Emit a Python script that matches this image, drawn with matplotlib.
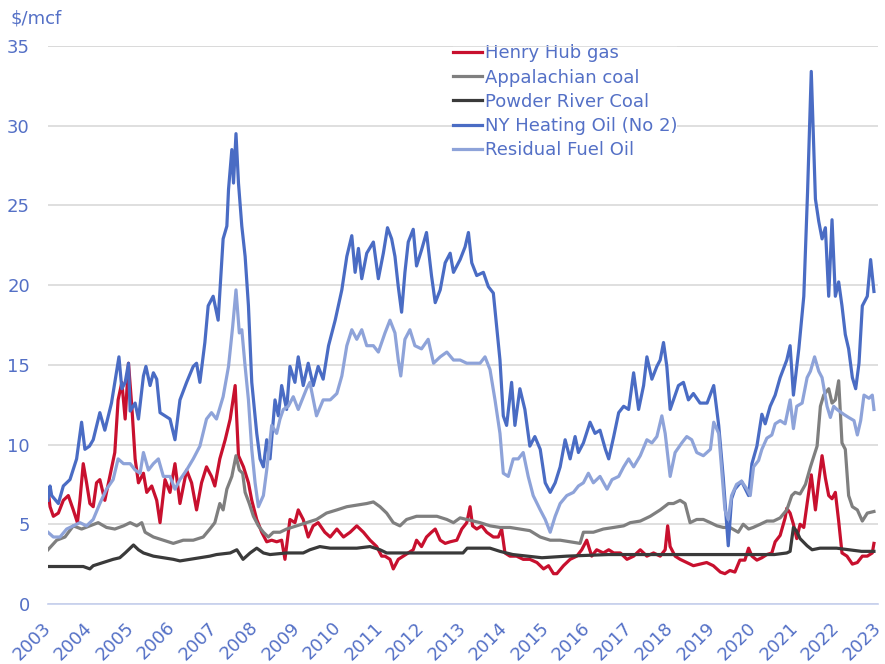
import matplotlib
matplotlib.use("Agg")
import matplotlib.pyplot as plt

# x positions are in the chart's own year units (as drawn on the category axis)
hh_x = [2003.00, 2003.05, 2003.13, 2003.25, 2003.37, 2003.49, 2003.61, 2003.71, 2003.77, 2003.85,
        2003.93, 2004.01, 2004.09, 2004.17, 2004.25, 2004.37, 2004.49, 2004.61, 2004.69, 2004.78,
        2004.86, 2004.94, 2005.02, 2005.10, 2005.18, 2005.30, 2005.38, 2005.50, 2005.62, 2005.70,
        2005.82, 2005.94, 2006.06, 2006.18, 2006.34, 2006.46, 2006.58, 2006.70, 2006.82, 2006.94,
        2007.02, 2007.14, 2007.27, 2007.39, 2007.51, 2007.59, 2007.71, 2007.83, 2007.91, 2008.03,
        2008.15, 2008.27, 2008.39, 2008.51, 2008.63, 2008.71, 2008.83, 2008.95, 2009.03, 2009.15,
        2009.27, 2009.39, 2009.51, 2009.67, 2009.80, 2009.96, 2010.12, 2010.28, 2010.44, 2010.60,
        2010.76, 2010.92, 2011.04, 2011.12, 2011.24, 2011.32, 2011.44, 2011.56, 2011.68, 2011.80,
        2011.88, 2012.00, 2012.12, 2012.24, 2012.33, 2012.45, 2012.57, 2012.69, 2012.85, 2012.97,
        2013.09, 2013.17, 2013.23, 2013.33, 2013.45, 2013.57, 2013.73, 2013.85, 2013.93, 2014.01,
        2014.13, 2014.29, 2014.45, 2014.61, 2014.78, 2014.94, 2015.06, 2015.18, 2015.26, 2015.42,
        2015.58, 2015.74, 2015.86, 2015.98, 2016.10, 2016.22, 2016.38, 2016.51, 2016.63, 2016.79,
        2016.95, 2017.11, 2017.27, 2017.43, 2017.59, 2017.75, 2017.87, 2017.93, 2017.99, 2018.11,
        2018.23, 2018.39, 2018.55, 2018.71, 2018.87, 2019.03, 2019.20, 2019.31, 2019.43, 2019.55,
        2019.67, 2019.79, 2019.88, 2019.96, 2020.08, 2020.20, 2020.32, 2020.44, 2020.52, 2020.64,
        2020.76, 2020.80, 2020.88, 2020.96, 2021.04, 2021.12, 2021.21, 2021.29, 2021.39, 2021.49,
        2021.57, 2021.65, 2021.73, 2021.81, 2021.89, 2021.97, 2022.05, 2022.13, 2022.25, 2022.38,
        2022.50, 2022.62, 2022.74, 2022.86, 2022.90]
hh_y = [7.2, 6.1, 5.5, 5.7, 6.5, 6.8, 5.9, 5.1, 6.5, 8.8,
        7.6, 6.3, 6.1, 7.6, 7.8, 6.5, 8.0, 9.5, 12.8, 13.9,
        11.6, 15.1, 12.4, 9.1, 7.6, 8.2, 7.0, 7.4, 6.5, 5.1,
        7.8, 7.0, 8.8, 6.3, 8.4, 7.6, 5.9, 7.6, 8.6, 8.0,
        7.4, 9.1, 10.3, 11.6, 13.7, 9.3, 8.6, 7.6, 6.5, 5.3,
        4.5, 3.9, 4.0, 3.9, 4.0, 2.8, 5.3, 5.1, 5.9, 5.3,
        4.2, 4.9, 5.1, 4.5, 4.2, 4.7, 4.2, 4.5, 4.9, 4.5,
        4.0, 3.6, 3.0, 3.0, 2.8, 2.2, 2.8, 3.0, 3.2, 3.4,
        4.0, 3.6, 4.2, 4.5, 4.7, 4.0, 3.8, 3.9, 4.0, 4.7,
        5.1, 6.1, 4.9, 4.7, 4.9, 4.5, 4.2, 4.2, 4.7, 3.2,
        3.0, 3.0, 2.8, 2.8, 2.6, 2.2, 2.4, 1.9, 1.9, 2.4,
        2.8, 3.0, 3.4, 4.0, 3.0, 3.4, 3.2, 3.4, 3.2, 3.2,
        2.8, 3.0, 3.4, 3.0, 3.2, 3.0, 3.4, 4.9, 3.6, 3.0,
        2.8, 2.6, 2.4, 2.5, 2.6, 2.4, 2.0, 1.9, 2.1, 2.0,
        2.75, 2.75, 3.5, 3.0, 2.75, 2.9, 3.1, 3.2, 3.9, 4.3,
        5.4, 6.0, 5.7, 5.0, 4.1, 5.0, 4.8, 6.3, 8.1, 5.9,
        7.7, 9.3, 7.9, 6.8, 6.6, 7.0, 5.2, 3.2, 3.0, 2.5,
        2.6, 3.0, 3.0, 3.2, 3.8]

app_x = [2003.00, 2003.21, 2003.41, 2003.61, 2003.81, 2004.01, 2004.21, 2004.41, 2004.61, 2004.82,
         2004.98, 2005.14, 2005.26, 2005.34, 2005.54, 2005.78, 2006.02, 2006.26, 2006.50, 2006.74,
         2006.90, 2007.02, 2007.14, 2007.22, 2007.31, 2007.43, 2007.53, 2007.61, 2007.69, 2007.75,
         2007.85, 2007.95, 2008.07, 2008.19, 2008.31, 2008.43, 2008.59, 2008.75, 2008.99, 2009.23,
         2009.47, 2009.71, 2009.96, 2010.20, 2010.44, 2010.68, 2010.84, 2011.00, 2011.16, 2011.32,
         2011.48, 2011.64, 2011.88, 2012.12, 2012.37, 2012.61, 2012.77, 2012.93, 2013.09, 2013.25,
         2013.41, 2013.65, 2013.89, 2014.13, 2014.37, 2014.61, 2014.86, 2015.10, 2015.34, 2015.58,
         2015.82, 2015.90, 2016.14, 2016.38, 2016.63, 2016.87, 2017.03, 2017.27, 2017.51, 2017.75,
         2017.95, 2018.07, 2018.23, 2018.35, 2018.47, 2018.63, 2018.79, 2018.96, 2019.12, 2019.27,
         2019.43, 2019.63, 2019.75, 2019.88, 2019.99, 2020.16, 2020.32, 2020.48, 2020.64, 2020.80,
         2020.92, 2021.00, 2021.12, 2021.25, 2021.37, 2021.53, 2021.61, 2021.69, 2021.81, 2021.89,
         2021.97, 2022.05, 2022.13, 2022.21, 2022.29, 2022.38, 2022.50, 2022.62, 2022.74, 2022.90]
app_y = [3.4, 4.0, 4.2, 4.9, 4.7, 4.9, 5.1, 4.8, 4.7, 4.9,
         5.1, 4.9, 5.1, 4.5, 4.2, 4.0, 3.8, 4.0, 4.0, 4.2,
         4.7, 5.1, 6.3, 5.9, 7.2, 8.0, 9.3, 8.4, 8.2, 7.0,
         6.3, 5.5, 4.9, 4.5, 4.2, 4.5, 4.5, 4.7, 4.9, 5.1,
         5.3, 5.7, 5.9, 6.1, 6.2, 6.3, 6.4, 6.1, 5.7, 5.1,
         4.9, 5.3, 5.5, 5.5, 5.5, 5.3, 5.1, 5.4, 5.3, 5.2,
         5.1, 4.9, 4.8, 4.8, 4.7, 4.6, 4.2, 4.0, 4.0, 3.9,
         3.8, 4.5, 4.5, 4.7, 4.8, 4.9, 5.1, 5.2, 5.5, 5.9,
         6.3, 6.3, 6.5, 6.3, 5.1, 5.3, 5.3, 5.1, 4.9, 4.8,
         4.8, 4.5, 5.0, 4.7, 4.8, 5.0, 5.2, 5.2, 5.4, 5.9,
         6.8, 7.0, 6.9, 7.5, 8.6, 9.9, 12.4, 13.1, 13.5, 12.6,
         12.8, 14.0, 10.1, 9.7, 6.8, 6.1, 5.9, 5.2, 5.7, 5.8]

prb_x = [2003.00, 2003.50, 2003.85, 2004.01, 2004.09, 2004.33, 2004.57, 2004.73, 2004.86, 2004.94,
         2005.06, 2005.18, 2005.30, 2005.54, 2005.78, 2006.02, 2006.18, 2006.42, 2006.66, 2006.90,
         2007.06, 2007.39, 2007.55, 2007.70, 2007.87, 2008.03, 2008.19, 2008.35, 2008.75, 2009.15,
         2009.31, 2009.55, 2009.80, 2010.44, 2010.76, 2011.00, 2011.16, 2012.00, 2013.00, 2013.10,
         2013.65, 2013.89, 2014.20, 2014.90, 2015.50, 2016.50, 2017.50, 2018.50, 2019.50, 2020.50,
         2020.80, 2020.88, 2020.96, 2021.03, 2021.12, 2021.29, 2021.41, 2021.60, 2022.00, 2022.30,
         2022.60, 2022.90]
prb_y = [2.35, 2.35, 2.35, 2.2, 2.4, 2.6, 2.8, 2.9, 3.2, 3.4,
         3.7, 3.4, 3.2, 3.0, 2.9, 2.8, 2.7, 2.8, 2.9, 3.0,
         3.1, 3.2, 3.4, 2.8, 3.2, 3.5, 3.2, 3.1, 3.2, 3.2,
         3.4, 3.6, 3.5, 3.5, 3.6, 3.4, 3.2, 3.2, 3.2, 3.5,
         3.5, 3.3, 3.1, 2.9, 3.0, 3.1, 3.1, 3.1, 3.1, 3.1,
         3.2, 3.3, 4.8, 4.6, 4.1, 3.65, 3.4, 3.5, 3.5, 3.4,
         3.3, 3.3]

ho_x = [2003.00, 2003.05, 2003.09, 2003.25, 2003.37, 2003.53, 2003.69, 2003.81, 2003.89, 2004.00,
        2004.09, 2004.25, 2004.37, 2004.53, 2004.71, 2004.78, 2004.86, 2004.94, 2004.98, 2005.10,
        2005.18, 2005.30, 2005.36, 2005.46, 2005.54, 2005.62, 2005.70, 2005.82, 2005.94, 2006.06,
        2006.18, 2006.34, 2006.50, 2006.58, 2006.66, 2006.78, 2006.86, 2006.98, 2007.10, 2007.22,
        2007.31, 2007.35, 2007.43, 2007.47, 2007.53, 2007.59, 2007.67, 2007.75, 2007.83, 2007.91,
        2008.03, 2008.11, 2008.19, 2008.27, 2008.35, 2008.47, 2008.55, 2008.63, 2008.75, 2008.83,
        2008.95, 2009.03, 2009.15, 2009.27, 2009.39, 2009.51, 2009.63, 2009.76, 2009.92, 2010.08,
        2010.20, 2010.32, 2010.40, 2010.48, 2010.56, 2010.68, 2010.84, 2010.96, 2011.08, 2011.18,
        2011.28, 2011.36, 2011.44, 2011.52, 2011.60, 2011.68, 2011.80, 2011.88, 2012.00, 2012.12,
        2012.24, 2012.33, 2012.45, 2012.57, 2012.69, 2012.77, 2012.93, 2013.05, 2013.13, 2013.21,
        2013.33, 2013.49, 2013.61, 2013.73, 2013.81, 2013.89, 2013.97, 2014.05, 2014.17, 2014.25,
        2014.37, 2014.49, 2014.61, 2014.73, 2014.86, 2014.98, 2015.10, 2015.22, 2015.34, 2015.46,
        2015.58, 2015.70, 2015.78, 2015.90, 2016.06, 2016.18, 2016.30, 2016.43, 2016.51, 2016.63,
        2016.75, 2016.87, 2016.99, 2017.11, 2017.23, 2017.35, 2017.43, 2017.55, 2017.67, 2017.75,
        2017.83, 2017.91, 2017.99, 2018.07, 2018.19, 2018.31, 2018.43, 2018.55, 2018.71, 2018.88,
        2019.04, 2019.16, 2019.27, 2019.39, 2019.47, 2019.55, 2019.71, 2019.88, 2019.96, 2020.08,
        2020.20, 2020.28, 2020.40, 2020.52, 2020.64, 2020.80, 2020.88, 2020.96, 2021.09, 2021.21,
        2021.30, 2021.39, 2021.49, 2021.57, 2021.65, 2021.73, 2021.81, 2021.89, 2021.97, 2022.05,
        2022.13, 2022.21, 2022.29, 2022.38, 2022.46, 2022.54, 2022.62, 2022.74, 2022.82, 2022.90]
ho_y = [6.5, 7.4, 6.8, 6.3, 7.4, 7.8, 9.1, 11.4, 9.7, 9.9,
        10.3, 12.0, 10.9, 12.6, 15.5, 13.5, 13.9, 15.1, 12.1, 12.6,
        11.6, 14.3, 14.9, 13.7, 14.5, 14.1, 12.0, 11.8, 11.6, 10.3,
        12.8, 13.9, 14.9, 15.1, 13.9, 16.4, 18.7, 19.3, 17.8, 22.9,
        23.7, 26.0, 28.5, 26.4, 29.5, 26.4, 23.7, 21.8, 18.7, 13.9,
        10.7, 9.1, 8.6, 10.3, 9.1, 12.8, 11.8, 13.7, 12.2, 14.9,
        13.9, 15.5, 13.7, 15.1, 13.7, 14.9, 14.1, 16.2, 17.8, 19.7,
        21.8, 23.1, 20.8, 22.3, 20.4, 22.0, 22.7, 20.4, 22.0, 23.6,
        22.9, 21.8, 19.9, 18.3, 20.8, 22.7, 23.5, 21.2, 22.2, 23.3,
        20.6, 18.9, 19.7, 21.4, 22.0, 20.8, 21.6, 22.4, 23.3, 21.4,
        20.6, 20.8, 19.9, 19.5, 17.4, 15.3, 11.8, 11.2, 13.9, 11.2,
        13.5, 12.2, 9.9, 10.5, 9.7, 7.6, 7.0, 7.6, 8.6, 10.3,
        9.1, 10.5, 9.5, 10.1, 11.4, 10.7, 10.9, 9.7, 9.1, 10.5,
        12.0, 12.4, 12.2, 14.5, 12.2, 13.7, 15.5, 14.1, 14.9, 15.3,
        16.4, 14.9, 12.2, 12.8, 13.7, 13.9, 12.8, 13.2, 12.6, 12.6,
        13.7, 11.2, 7.9, 3.65, 6.6, 7.2, 7.7, 6.8, 8.8, 9.9,
        11.9, 11.3, 12.4, 13.1, 14.2, 15.3, 16.2, 13.1, 16.0, 19.3,
        25.8, 33.4, 25.4, 24.0, 22.9, 23.6, 19.3, 24.1, 19.3, 20.2,
        18.7, 16.9, 16.0, 14.2, 13.5, 15.1, 18.7, 19.3, 21.6, 19.6]

rfo_x = [2003.00, 2003.13, 2003.29, 2003.45, 2003.61, 2003.77, 2003.93, 2004.09, 2004.25, 2004.41,
         2004.57, 2004.69, 2004.82, 2004.98, 2005.10, 2005.22, 2005.30, 2005.42, 2005.54, 2005.66,
         2005.78, 2005.94, 2006.06, 2006.18, 2006.34, 2006.50, 2006.66, 2006.82, 2006.94, 2007.06,
         2007.22, 2007.35, 2007.45, 2007.53, 2007.61, 2007.67, 2007.75, 2007.83, 2007.91, 2007.99,
         2008.07, 2008.19, 2008.27, 2008.39, 2008.51, 2008.59, 2008.67, 2008.79, 2008.91, 2009.03,
         2009.23, 2009.31, 2009.47, 2009.63, 2009.80, 2009.96, 2010.08, 2010.20, 2010.32, 2010.44,
         2010.56, 2010.68, 2010.84, 2010.96, 2011.12, 2011.24, 2011.36, 2011.44, 2011.50, 2011.60,
         2011.72, 2011.84, 2012.00, 2012.16, 2012.29, 2012.45, 2012.61, 2012.77, 2012.93, 2013.09,
         2013.25, 2013.41, 2013.53, 2013.65, 2013.77, 2013.89, 2013.97, 2014.09, 2014.21, 2014.33,
         2014.45, 2014.57, 2014.69, 2014.86, 2014.98, 2015.10, 2015.22, 2015.34, 2015.50, 2015.66,
         2015.78, 2015.90, 2016.02, 2016.14, 2016.30, 2016.47, 2016.59, 2016.75, 2016.87, 2016.99,
         2017.11, 2017.27, 2017.43, 2017.55, 2017.67, 2017.79, 2017.87, 2017.99, 2018.11, 2018.27,
         2018.39, 2018.51, 2018.63, 2018.79, 2018.96, 2019.04, 2019.16, 2019.31, 2019.39, 2019.47,
         2019.59, 2019.71, 2019.84, 2019.92, 2020.00, 2020.12, 2020.20, 2020.32, 2020.44, 2020.52,
         2020.64, 2020.76, 2020.88, 2020.96, 2021.04, 2021.17, 2021.29, 2021.37, 2021.47, 2021.57,
         2021.65, 2021.77, 2021.85, 2021.93, 2022.01, 2022.17, 2022.29, 2022.42, 2022.50, 2022.58,
         2022.66, 2022.78, 2022.86, 2022.90]
rfo_y = [4.5, 4.2, 4.2, 4.7, 4.9, 5.1, 4.9, 5.3, 6.3, 7.2,
         7.8, 9.1, 8.8, 8.8, 8.4, 8.2, 9.5, 8.4, 8.8, 9.1,
         8.0, 8.0, 7.2, 7.8, 8.4, 9.1, 9.9, 11.6, 12.0, 11.6,
         13.0, 14.9, 17.4, 19.7, 17.0, 17.2, 14.9, 12.8, 9.7, 7.6,
         6.1, 6.8, 8.4, 11.2, 10.7, 11.6, 12.2, 12.4, 13.0, 12.2,
         13.5, 13.9, 11.8, 12.8, 12.8, 13.2, 14.3, 16.2, 17.2, 16.6,
         17.2, 16.2, 16.2, 15.8, 17.0, 17.8, 17.0, 15.3, 14.3, 16.6,
         17.2, 16.2, 16.0, 16.6, 15.1, 15.5, 15.8, 15.3, 15.3, 15.1,
         15.1, 15.1, 15.5, 14.7, 12.8, 10.7, 8.2, 8.0, 9.1, 9.1,
         9.5, 8.0, 6.8, 5.9, 5.3, 4.5, 5.5, 6.3, 6.8, 7.0,
         7.4, 7.6, 8.2, 7.6, 8.0, 7.2, 7.8, 8.0, 8.6, 9.1,
         8.6, 9.3, 10.3, 10.1, 10.5, 11.8, 10.7, 8.0, 9.5, 10.1,
         10.5, 10.3, 9.5, 9.3, 9.7, 11.4, 10.7, 5.9, 5.3, 6.8,
         7.5, 7.7, 7.2, 6.8, 8.6, 9.0, 9.7, 10.4, 10.6, 11.3,
         11.5, 11.3, 12.8, 11.0, 12.4, 12.6, 14.2, 14.6, 15.5, 14.6,
         14.2, 12.4, 11.7, 12.4, 12.2, 11.9, 11.7, 11.5, 10.6, 11.5,
         13.1, 12.9, 13.1, 12.2]

years = list(range(2003, 2024))
y_ticks = [0, 5, 10, 15, 20, 25, 30, 35]

label_color = "#5470c6"
grid_color = "#d9d9d9"
plt.rcParams["font.family"] = ["DejaVu Sans"]

fig = plt.figure(figsize=(8.85, 6.64), dpi=100)
ax = fig.add_axes([0.0542, 0.0904, 0.938, 0.8404])

lw = 2.3
ax.plot(hh_x, hh_y, color="#c8102e", lw=lw, label="Henry Hub gas")
ax.plot(app_x, app_y, color="#7f7f7f", lw=lw, label="Appalachian coal")
ax.plot(prb_x, prb_y, color="#3a3a3a", lw=lw, label="Powder River Coal")
ax.plot(ho_x, ho_y, color="#4a6cc4", lw=lw, label="NY Heating Oil (No 2)")
ax.plot(rfo_x, rfo_y, color="#8ea3d9", lw=lw, label="Residual Fuel Oil")

ax.set_xlim(2003, 2023)
ax.set_ylim(0, 35)
ax.set_yticks(y_ticks)
ax.set_xticks(years)
ax.set_xticklabels([str(y) for y in years], rotation=45, ha="right", va="center",
                   rotation_mode="anchor")
ax.tick_params(axis="both", length=0, labelsize=13, labelcolor=label_color)
ax.tick_params(axis="y", pad=13)
ax.tick_params(axis="x", pad=15)

ax.grid(axis="y", color=grid_color, lw=1.2)
ax.set_axisbelow(True)
for s in ["top", "right", "left"]:
    ax.spines[s].set_visible(False)
ax.spines["bottom"].set_color("#c5cfee")
ax.spines["bottom"].set_linewidth(1.2)

leg = ax.legend(loc="upper left", bbox_to_anchor=(0.512, 0.933), bbox_transform=fig.transFigure,
                frameon=True, fancybox=False, edgecolor="none", facecolor="white", framealpha=1,
                fontsize=13, labelcolor=label_color, handlelength=1.6, handletextpad=0.15,
                labelspacing=0.34, borderpad=0.0, borderaxespad=0.0)
# top gridline stays visible above the legend box
ax.axhline(35, color=grid_color, lw=1.2, zorder=6)

fig.text(0.012, 0.972, "$/mcf", color=label_color, fontsize=13, ha="left", va="center")

fig.savefig("out.png", dpi=100)
